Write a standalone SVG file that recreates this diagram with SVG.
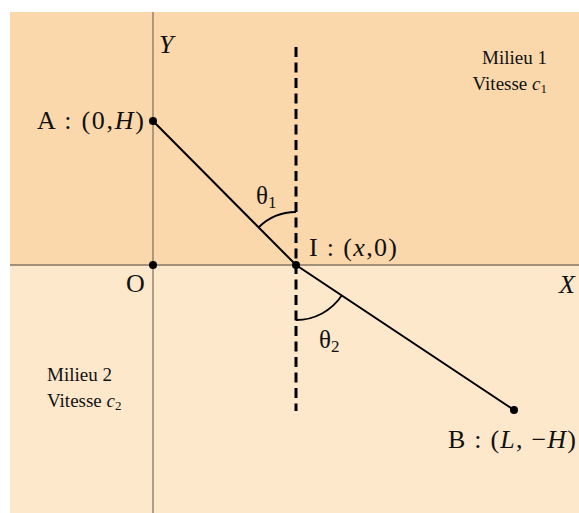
<svg xmlns="http://www.w3.org/2000/svg" width="579" height="513" viewBox="0 0 579 513">
<style>
.t{font-family:"Liberation Serif","DejaVu Serif",serif;fill:#111}
.m{font-size:26px}
.s{font-size:19px}
.axis{stroke:#857565;stroke-width:1.3;fill:none}
.ray{stroke:#000;stroke-width:2;fill:none}
.arc{stroke:#000;stroke-width:1.8;fill:none}
.dot{fill:#000}
</style>
<rect x="0" y="0" width="579" height="513" fill="#fff"/>
<g id="milieu1-region"><rect x="10" y="12" width="569" height="253" fill="#fbd8ac"/></g>
<g id="milieu2-region"><rect x="10" y="265" width="569" height="248" fill="#fde8cb"/></g>
<g id="connectors">
<line class="axis" x1="153" y1="12" x2="153" y2="513"/>
<line class="axis" x1="10" y1="265" x2="579" y2="265"/>
<line x1="296" y1="47" x2="296" y2="411" stroke="#000" stroke-width="3" stroke-dasharray="10 5.5"/>
<polyline class="ray" points="153,121 296,265 514,410"/>
<path class="arc" d="M296 212 A53 53 0 0 0 258.5 227.5"/>
<path class="arc" d="M296 320 A55 55 0 0 0 341.9 295.3"/>
</g>
<g id="A"><circle class="dot" cx="153" cy="121" r="4"/>
<text class="t m" x="37" y="129" textLength="107" lengthAdjust="spacing">A : (0,<tspan font-style="italic">H</tspan>)</text></g>
<g id="O"><circle class="dot" cx="153" cy="265" r="4"/>
<text class="t m" x="126" y="292">O</text></g>
<g id="I"><circle class="dot" cx="296" cy="265" r="4"/>
<text class="t m" x="309" y="256" textLength="88" lengthAdjust="spacing">I : (<tspan font-style="italic">x</tspan>,0)</text></g>
<g id="B"><circle class="dot" cx="514" cy="410" r="4"/>
<text class="t m" x="448" y="448" textLength="128" lengthAdjust="spacing">B : (<tspan font-style="italic">L</tspan>, −<tspan font-style="italic">H</tspan>)</text></g>
<g id="Y"><text class="t m" x="159" y="53" font-style="italic">Y</text></g>
<g id="X"><text class="t m" x="559" y="293" font-style="italic">X</text></g>
<g id="theta1"><text class="t" x="256" y="204" font-size="25">θ<tspan font-size="17" dy="4">1</tspan></text></g>
<g id="theta2"><text class="t" x="319" y="348" font-size="25">θ<tspan font-size="17" dy="4">2</tspan></text></g>
<g id="milieu1"><text class="t s" x="547" y="64" text-anchor="end">Milieu 1</text>
<text class="t s" x="547" y="90" text-anchor="end">Vitesse <tspan font-style="italic">c</tspan><tspan font-size="13" dy="3">1</tspan></text></g>
<g id="milieu2"><text class="t s" x="47" y="381">Milieu 2</text>
<text class="t s" x="47" y="407">Vitesse <tspan font-style="italic">c</tspan><tspan font-size="13" dy="3">2</tspan></text></g>
</svg>
